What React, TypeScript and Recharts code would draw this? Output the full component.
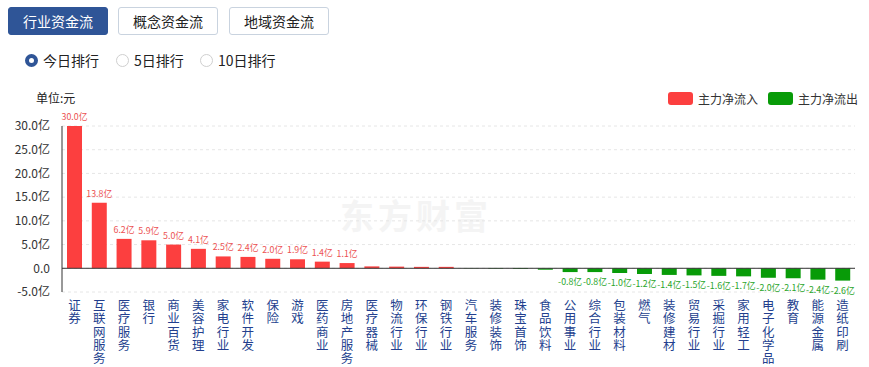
import React from "react";
import {
  BarChart,
  Bar,
  XAxis,
  YAxis,
  CartesianGrid,
  ReferenceLine,
  Cell,
  LabelList,
} from "recharts";

const categories = [
  "证券", "互联网服务", "医疗服务", "银行", "商业百货", "美容护理", "家电行业", "软件开发",
  "保险", "游戏", "医药商业", "房地产服务", "医疗器械", "物流行业", "环保行业", "钢铁行业",
  "汽车服务", "装修装饰", "珠宝首饰", "食品饮料", "公用事业", "综合行业", "包装材料", "燃气",
  "装修建材", "贸易行业", "采掘行业", "家用轻工", "电子化学品", "教育", "能源金属", "造纸印刷",
];

const netFlow = [
  30.0, 13.8, 6.2, 5.9, 5.0, 4.1, 2.5, 2.4,
  2.0, 1.9, 1.4, 1.1, 0.4, 0.35, 0.3, 0.3,
  -0.05, -0.1, -0.15, -0.3, -0.8, -0.8, -1.0, -1.2,
  -1.4, -1.5, -1.6, -1.7, -2.0, -2.1, -2.4, -2.6,
];

const yTicks = [-5, 0, 5, 10, 15, 20, 25, 30];
const tabs = ["行业资金流", "概念资金流", "地域资金流"];
const ranks = ["今日排行", "5日排行", "10日排行"];
const legendItems = ["主力净流入", "主力净流出"];

const RED = "#fc3f3f";
const GREEN = "#089b08";
const FONT = "'Noto Sans CJK SC', 'Noto Sans', sans-serif";

const data = categories.map((name, i) => ({ name, value: netFlow[i] }));

const XTick = (props: any) => {
  const { x, y, payload } = props;
  return (
    <text
      x={x}
      y={y + 1}
      fill="#233f8e"
      fontSize={12.5}
      fontFamily={FONT}
      letterSpacing={0.8}
      style={{ writingMode: "vertical-rl" } as any}
    >
      {payload.value}
    </text>
  );
};

const ValueLabel = (props: any) => {
  const { x, y, width, height, value } = props;
  if (Math.abs(value) < 0.75) return null;
  const cx = x + width / 2;
  const pos = value >= 0;
  const ty = pos ? Math.min(y, y + height) - 6 : Math.max(y, y + height) + 13;
  return (
    <text
      x={cx}
      y={ty}
      textAnchor="middle"
      fontSize={8.8}
      fontFamily={FONT}
      fill={pos ? "#ec5252" : "#2aa52a"}
    >
      {value.toFixed(1) + "亿"}
    </text>
  );
};

export default function App() {
  return (
    <div
      style={{
        position: "absolute",
        left: 0,
        top: 0,
        width: 869,
        height: 367,
        background: "#fff",
        fontFamily: FONT,
        overflow: "hidden",
      }}
    >
      {tabs.map((t, i) => (
        <div
          key={t}
          style={{
            position: "absolute",
            left: [8, 118, 229][i],
            top: 7,
            width: 100,
            height: 28,
            boxSizing: "border-box",
            borderRadius: 3,
            border: i === 0 ? "1px solid #2f5597" : "1px solid #c9d3df",
            background: i === 0 ? "#2f5597" : "#fff",
            color: i === 0 ? "#fff" : "#222",
            fontSize: 14,
            lineHeight: "26px",
            textAlign: "center",
          }}
        >
          {t}
        </div>
      ))}
      {ranks.map((r, i) => {
        const left = [25, 116, 200][i];
        return (
          <div
            key={r}
            style={{
              position: "absolute",
              left,
              top: 51,
              height: 18,
              display: "flex",
              alignItems: "center",
              fontSize: 14,
              color: "#222",
            }}
          >
            <span
              style={{
                display: "inline-block",
                width: 13,
                height: 13,
                boxSizing: "border-box",
                borderRadius: "50%",
                border: i === 0 ? "4px solid #2f5597" : "1px solid #cfcfcf",
                background: "#fff",
                marginRight: 5,
              }}
            />
            {r}
          </div>
        );
      })}
      <div style={{ position: "absolute", left: 36, top: 89, fontSize: 12, color: "#222" }}>单位:元</div>
      {legendItems.map((l, i) => (
        <div
          key={l}
          style={{
            position: "absolute",
            left: [668, 768][i],
            top: 90,
            display: "flex",
            alignItems: "center",
            fontSize: 12,
            color: "#333",
          }}
        >
          <span
            style={{
              display: "inline-block",
              width: 25,
              height: 13,
              borderRadius: 3,
              background: i === 0 ? RED : GREEN,
              marginRight: 5,
            }}
          />
          {l}
        </div>
      ))}
      <div
        style={{
          position: "absolute",
          left: 340,
          top: 190,
          fontSize: 34,
          fontWeight: 700,
          color: "#f4f4f4",
          letterSpacing: 4,
        }}
      >
        东方财富
      </div>
      <div style={{ position: "absolute", left: 0, top: 0 }}>
        <BarChart
          width={869}
          height={367}
          data={data}
          margin={{ top: 126, right: 14, bottom: 0, left: 0 }}
          barCategoryGap={0}
        >
          <CartesianGrid vertical={false} stroke="#e6e6e6" strokeDasharray="3 3" />
          <XAxis
            dataKey="name"
            interval={0}
            axisLine={false}
            tickLine={false}
            tick={<XTick />}
            height={75}
            tickMargin={0}
          />
          <YAxis
            domain={[-5, 30]}
            ticks={yTicks}
            width={62}
            axisLine={{ stroke: "#333" }}
            tickLine={false}
            tickMargin={6}
            interval={0}
            tick={{ fontSize: 12, fill: "#333", fontFamily: FONT }}
            tickFormatter={(v: number) => (v === 0 ? "0.0" : v.toFixed(1) + "亿")}
          />
          <ReferenceLine y={0} stroke="#333" />
          <Bar dataKey="value" barSize={15} isAnimationActive={false}>
            {data.map((d, i) => (
              <Cell key={i} fill={d.value >= 0 ? RED : GREEN} />
            ))}
            <LabelList dataKey="value" content={<ValueLabel />} />
          </Bar>
        </BarChart>
      </div>
    </div>
  );
}
